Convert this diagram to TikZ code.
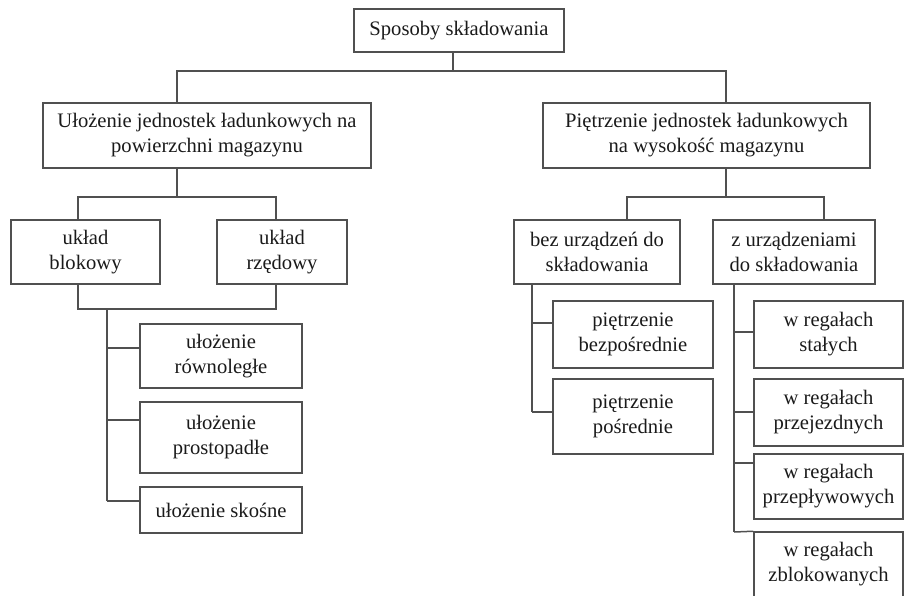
\documentclass[tikz,border=0pt]{standalone}
\usepackage{fontspec}
\setmainfont{Liberation Serif}
\definecolor{linegray}{HTML}{505050}
\definecolor{textgray}{HTML}{1A1A1A}
\begin{document}
\begin{tikzpicture}[x=1pt,y=-1pt,
  box/.style={draw=linegray, line width=1.5pt, align=center, inner sep=0pt,
    text=textgray, font=\fontsize{20.6}{25}\selectfont},
  conn/.style={draw=linegray, line width=1.5pt}]
\useasboundingbox (0,0) rectangle (904,596);
\clip (0,0) rectangle (904,596);
% nodes
\node[box, minimum width=210pt, minimum height=43pt] (root) at (459,30.5) {Sposoby składowania};
\node[box, minimum width=328pt, minimum height=65pt] (A) at (207,135.5) {Ułożenie jednostek ładunkowych na\\powierzchni magazynu};
\node[box, minimum width=327pt, minimum height=65pt] (B) at (706.5,135.5) {Piętrzenie jednostek ładunkowych\\na wysokość magazynu};
\node[box, minimum width=149pt, minimum height=64pt] (A1) at (85.5,252) {układ\\blokowy};
\node[box, minimum width=130pt, minimum height=64pt] (A2) at (282,252) {układ\\rzędowy};
\node[box, minimum width=162pt, minimum height=64pt] (A3) at (221,356) {ułożenie\\równoległe};
\node[box, minimum width=162pt, minimum height=71pt] (A4) at (221,437.5) {ułożenie\\prostopadłe};
\node[box, minimum width=162pt, minimum height=46pt] (A5) at (221,510) {ułożenie skośne};
\node[box, minimum width=166pt, minimum height=64pt] (B1) at (597,252) {bez urządzeń do\\składowania};
\node[box, minimum width=162pt, minimum height=64pt] (B2) at (794,252) {z urządzeniami\\do składowania};
\node[box, minimum width=160pt, minimum height=67pt] (B3) at (633,334.5) {piętrzenie\\bezpośrednie};
\node[box, minimum width=160pt, minimum height=75pt] (B4) at (633,416.5) {piętrzenie\\pośrednie};
\node[box, minimum width=149pt, minimum height=67pt] (B5) at (828.5,334.5) {w regałach\\stałych};
\node[box, minimum width=149pt, minimum height=67pt] (B6) at (828.5,412.5) {w regałach\\przejezdnych};
\node[box, minimum width=149pt, minimum height=65pt] (B7) at (828.5,486.5) {w regałach\\przepływowych};
\node[box, minimum width=149pt, minimum height=65pt] (B8) at (828.5,564.5) {w regałach\\zblokowanych};
% coordinates
\coordinate (r0) at (453,71);
\coordinate (busL) at (177,71);
\coordinate (busR) at (726,71);
\coordinate (bA) at (177,197);
\coordinate (bA1) at (78,197);
\coordinate (bA2) at (276,197);
\coordinate (kA1) at (78,309);
\coordinate (kA2) at (276,309);
\coordinate (tA) at (107,309);
\coordinate (cA3) at (107,348);
\coordinate (cA4) at (107,420);
\coordinate (cA5) at (107,501);
\coordinate (bB) at (726,197);
\coordinate (bB1) at (627,197);
\coordinate (bB2) at (824,197);
\coordinate (tB1) at (532,284);
\coordinate (cB3) at (532,323);
\coordinate (cB4) at (532,412);
\coordinate (tB2) at (734,284);
\coordinate (cB5) at (734,332);
\coordinate (cB6) at (734,412);
\coordinate (cB7) at (734,463);
\coordinate (cB8) at (734,532);
% connectors
\draw[conn] (root.south -| r0) -- (r0);
\draw[conn] (A.north -| busL) -- (busL) -- (busR) -- (B.north -| busR);
\draw[conn] (A.south -| bA) -- (bA);
\draw[conn] (A1.north -| bA1) -- (bA1) -- (bA2) -- (A2.north -| bA2);
\draw[conn] (A1.south -| kA1) -- (kA1) -- (kA2) -- (A2.south -| kA2);
\draw[conn] (tA) -- (cA5);
\draw[conn] (cA3) -- (A3.west |- cA3);
\draw[conn] (cA4) -- (A4.west |- cA4);
\draw[conn] (cA5) -- (A5.west |- cA5);
\draw[conn] (B.south -| bB) -- (bB);
\draw[conn] (B1.north -| bB1) -- (bB1) -- (bB2) -- (B2.north -| bB2);
\draw[conn] (B1.south -| tB1) -- (cB4);
\draw[conn] (cB3) -- (B3.west |- cB3);
\draw[conn] (cB4) -- (B4.west |- cB4);
\draw[conn] (B2.south -| tB2) -- (cB8);
\draw[conn] (cB5) -- (B5.west |- cB5);
\draw[conn] (cB6) -- (B6.west |- cB6);
\draw[conn] (cB7) -- (B7.west |- cB7);
\draw[conn] (cB8) -- (B8.north west);
\end{tikzpicture}
\end{document}
